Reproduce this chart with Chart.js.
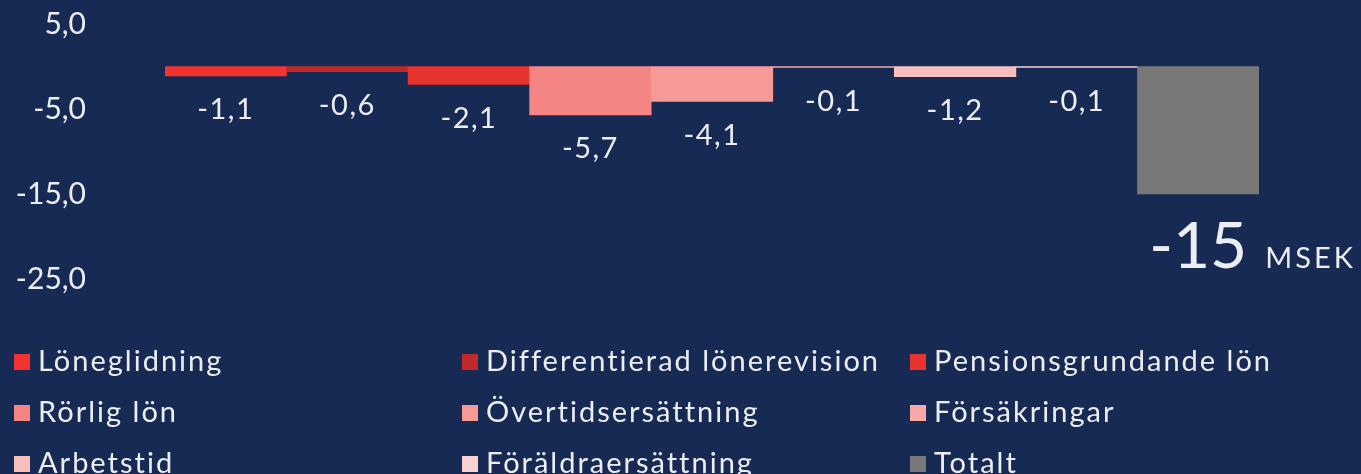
<!DOCTYPE html>
<html>
<head>
<meta charset="utf-8">
<script src="https://cdn.jsdelivr.net/npm/chart.js@4"></script>
<style>
  html, body { margin: 0; padding: 0; background: #172a54; overflow: hidden; }
  #wrap { position: relative; width: 1361px; height: 474px; }
</style>
</head>
<body>
<div id="wrap"><canvas id="kostnad" width="1361" height="474"></canvas></div>
<script>
const poster = ['Löneglidning', 'Differentierad lönerevision', 'Pensionsgrundande lön',
   'Rörlig lön', 'Övertidsersättning', 'Försäkringar',
   'Arbetstid', 'Föräldraersättning', 'Totalt'];
const belopp = [-1.1, -0.6, -2.1, -5.7, -4.1, -0.1, -1.2, -0.1, -15];
const farger = ['#f3332f', '#c12a2a', '#e9332e', '#f58583', '#f69a97', '#f8aaa8', '#f9bfbf', '#fbd2d2', '#787878'];
const yTicks = [5, -5, -15, -25];
const enhet = 'MSEK';

const FONT = 'Lato, "Open Sans", sans-serif';
const TEXT = '#eceef3';
const komma = v => v.toFixed(1).replace('.', ',');

// etiketter under staplarna + legend i tre kolumner
const etiketter = {
   id: 'etiketter',
   afterDatasetsDraw(chart) {
      const ctx = chart.ctx;
      const bars = chart.getDatasetMeta(0).data;
      ctx.save();
      ctx.fillStyle = TEXT;
      ctx.textAlign = 'center';
      ctx.textBaseline = 'middle';
      bars.forEach((bar, i) => {
         const last = i === bars.length - 1;
         if (!last) {
            ctx.font = '29px ' + FONT;
            ctx.letterSpacing = '1.5px';
            ctx.fillText(komma(belopp[i]), bar.x, bar.y + 34);
         } else {
            ctx.textBaseline = 'alphabetic';
            ctx.letterSpacing = '0px';
            ctx.font = '64px ' + FONT;
            const txt = String(belopp[i]);
            ctx.fillText(txt, bar.x, bar.y + 74);
            const w = ctx.measureText(txt).width;
            ctx.textAlign = 'left';
            ctx.font = '29px ' + FONT;
            ctx.letterSpacing = '3px';
            ctx.fillText(enhet, bar.x + w / 2 + 18, bar.y + 74);
         }
      });

      // legend
      ctx.textAlign = 'left';
      ctx.textBaseline = 'middle';
      ctx.font = '29px ' + FONT;
      ctx.letterSpacing = '2px';
      poster.forEach((namn, i) => {
         const col = i % 3, row = Math.floor(i / 3);
         const x = 14 + col * 448, y = 362 + row * 51;
         ctx.fillStyle = farger[i];
         ctx.fillRect(x, y - 8, 16, 16);
         ctx.fillStyle = TEXT;
         ctx.fillText(namn, x + 24, y);
      });
      ctx.restore();
   }
};

new Chart(document.getElementById('kostnad'), {
   type: 'bar',
   data: {
      labels: poster,
      datasets: [{
         data: belopp,
         backgroundColor: farger,
         borderWidth: 0,
         barPercentage: 1,
         categoryPercentage: 1
      }]
   },
   options: {
      responsive: false,
      animation: false,
      layout: { padding: { top: 24, right: 102, bottom: 195, left: 0 } },
      plugins: { legend: { display: false }, tooltip: { enabled: false } },
      scales: {
         x: { display: false },
         y: {
            min: -25,
            max: 5,
            afterFit: s => { s.width = 165; s.paddingTop = 0; s.paddingBottom = 0; },
            afterBuildTicks: s => { s.ticks = yTicks.map(v => ({ value: v })); },
            grid: { display: false, drawTicks: false },
            border: { display: false },
            ticks: {
               padding: 79,
               color: TEXT,
               font: { family: FONT, size: 30 },
               callback: v => komma(v)
            }
         }
      }
   },
   plugins: [etiketter]
});
</script>
</body>
</html>
